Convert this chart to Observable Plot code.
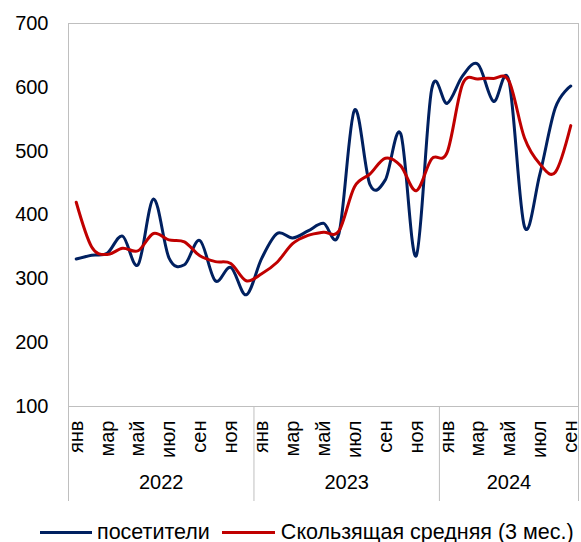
<!DOCTYPE html>
<html><head><meta charset="utf-8">
<script src="https://cdn.jsdelivr.net/npm/d3@7"></script>
<script src="https://cdn.jsdelivr.net/npm/@observablehq/plot@0.6"></script>
<style>
body{margin:0;background:#fff;font-family:"Liberation Sans",Arial,sans-serif;color:#000;}
#legend{display:flex;align-items:center;padding-left:40px;margin-top:8px;height:24px;font-size:21.5px;white-space:nowrap;}
#legend .sw{display:inline-block;height:3px;}
</style></head><body>
<div id="chart"></div>
<div id="legend">
  <span class="sw" style="width:52px;background:#002060;margin-right:5px"></span><span>посетители</span>
  <span class="sw" style="width:53px;background:#C00000;margin:0 6px 0 12px"></span><span>Скользящая средняя (3 мес.)</span>
</div>
<script>
const monthNames = ["янв","фев","мар","апр","май","июн","июл","авг","сен","окт","ноя","дек"];
const years = ["2022","2023","2024"];
const monthsPerYear = [12, 12, 9];
const visitors = [331,337,340,367,322,425,333,322,360,297,318,275,332,371,364,375,387,371,564,448,455,527,336,597,575,618,636,578,610,382,464,568,602];
const movingAvg = [420,350,338,348,344,371,361,358,336,327,324,297,308,326,355,368,373,375,444,464,489,477,438,488,498,605,613,614,610,521,480,467,540];
const yTicks = [100,200,300,400,500,600,700];

const data = [];
let idx = 0;
years.forEach((y, yi) => {
  for (let m = 0; m < monthsPerYear[yi]; m++) {
    data.push({i: idx, month: monthNames[m], year: y, visitors: visitors[idx], avg: movingAvg[idx]});
    idx++;
  }
});
const tickIdx = data.filter(d => d.i % 2 === 0).map(d => d.i);
const yearGroups = years.map(y => {
  const ds = data.filter(d => d.year === y);
  return {year: y, mid: (ds[0].i + ds[ds.length - 1].i) / 2, end: ds[ds.length - 1].i + 0.5};
});
const bounds = [-0.5, ...yearGroups.map(g => g.end)];
const gridColor = "#bfbfbf";

const chart = Plot.plot({
  width: 581, height: 512,
  marginLeft: 68, marginRight: 3, marginTop: 23, marginBottom: 106,
  style: {fontFamily: '"Liberation Sans", Arial, sans-serif', fontSize: "20px", color: "#000", background: "#fff"},
  x: {domain: [-0.5, data.length - 0.5]},
  y: {domain: [100, 700]},
  marks: [
    Plot.frame({stroke: gridColor}),
    Plot.ruleX(bounds, {y1: 100, y2: 100, insetBottom: -95, stroke: gridColor}),
    Plot.axisY({ticks: yTicks, tickSize: 0, tickPadding: 20, label: null, fontSize: 20}),
    Plot.axisX({ticks: tickIdx, tickFormat: i => data[i].month, tickRotate: -90, tickSize: 0, tickPadding: 14, label: null, fontSize: 20}),
    Plot.text(yearGroups, {x: "mid", text: "year", frameAnchor: "bottom", dy: 82, fontSize: 20}),
    Plot.line(data, {x: "i", y: "visitors", stroke: "#002060", strokeWidth: 3, curve: "cardinal"}),
    Plot.line(data, {x: "i", y: "avg", stroke: "#C00000", strokeWidth: 3, curve: "cardinal"})
  ]
});
document.getElementById("chart").appendChild(chart);
</script>
</body></html>
